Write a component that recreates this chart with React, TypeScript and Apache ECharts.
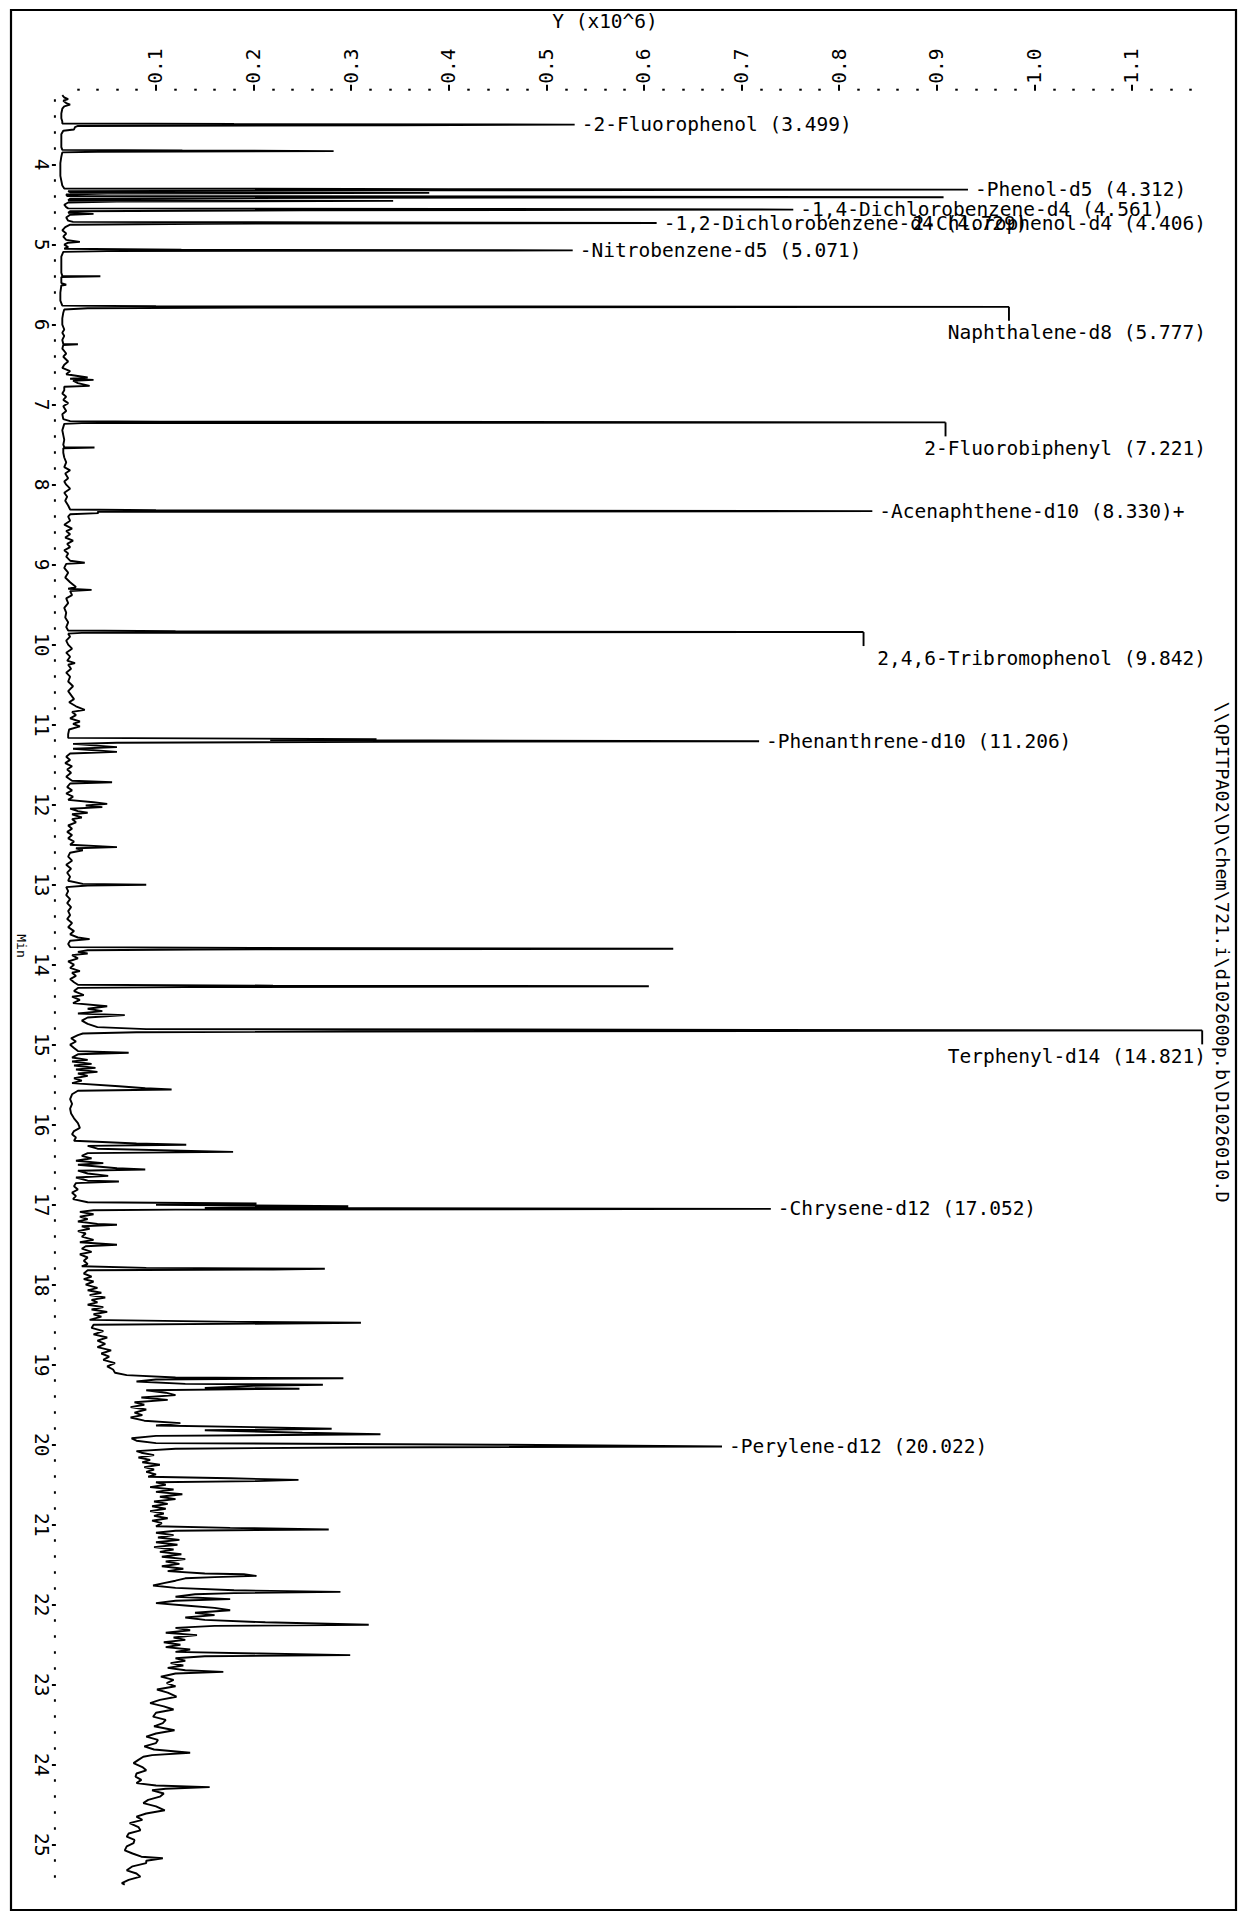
import { useEffect, useRef } from "react";
import * as echarts from "echarts";

// Labelled surrogate peaks: retention time (min) and apex abundance (x10^6)
const peakNames = [
  "2-Fluorophenol",
  "Phenol-d5",
  "2-Chlorophenol-d4",
  "1,4-Dichlorobenzene-d4",
  "1,2-Dichlorobenzene-d4",
  "Nitrobenzene-d5",
  "Naphthalene-d8",
  "2-Fluorobiphenyl",
  "Acenaphthene-d10",
  "2,4,6-Tribromophenol",
  "Phenanthrene-d10",
  "Terphenyl-d14",
  "Chrysene-d12",
  "Perylene-d12",
];
const peakTimes = [3.499, 4.312, 4.406, 4.561, 4.729, 5.071, 5.777, 7.221, 8.33, 9.842, 11.206, 14.821, 17.052, 20.022];
const peakHeights = [0.529, 0.932, 0.907, 0.753, 0.613, 0.527, 0.974, 0.909, 0.834, 0.825, 0.718, 1.172, 0.73, 0.68];
const peakFlags = ["", "", "", "", "", "", "", "", "+", "", "", "", "", ""];

// Axis tick labels
const abundanceTicks = [0.1, 0.2, 0.3, 0.4, 0.5, 0.6, 0.7, 0.8, 0.9, 1.0, 1.1];
const timeTicks = [4, 5, 6, 7, 8, 9, 10, 11, 12, 13, 14, 15, 16, 17, 18, 19, 20, 21, 22, 23, 24, 25];

// Total ion trace between the labelled apexes: [time (min), abundance (x10^6)]
const traceVolatiles = [
  [3.13, 0.004], [3.16, 0.006], [3.18, 0.01], [3.2, 0.005], [3.23, 0.008], [3.25, 0.012], [3.27, 0.006],
  [3.3, 0.004], [3.36, 0.003], [3.42, 0.003], [3.46, 0.004], [3.485, 0.004], [3.492, 0.18],
  [3.508, 0.35], [3.516, 0.02], [3.53, 0.017], [3.56, 0.016], [3.575, 0.005], [3.62, 0.003], [3.7, 0.003],
  [3.78, 0.003], [3.815, 0.004], [3.823, 0.127], [3.83, 0.282], [3.838, 0.04], [3.846, 0.004], [3.9, 0.003],
  [3.98, 0.002], [4.06, 0.002], [4.14, 0.002], [4.2, 0.003], [4.26, 0.004], [4.298, 0.006], [4.305, 0.4],
  [4.32, 0.35], [4.33, 0.01], [4.345, 0.012], [4.352, 0.38], [4.36, 0.05], [4.372, 0.008], [4.392, 0.009],
  [4.398, 0.45], [4.414, 0.3], [4.425, 0.012], [4.445, 0.01], [4.452, 0.343], [4.46, 0.06], [4.472, 0.01],
  [4.5, 0.006], [4.53, 0.008], [4.546, 0.01], [4.553, 0.4], [4.57, 0.25], [4.582, 0.012], [4.6, 0.01],
  [4.615, 0.036], [4.625, 0.012], [4.66, 0.008], [4.7, 0.01], [4.715, 0.015], [4.722, 0.3], [4.738, 0.15],
  [4.75, 0.012], [4.78, 0.007], [4.82, 0.004], [4.86, 0.008], [4.9, 0.005], [4.94, 0.008], [4.965, 0.022],
  [4.975, 0.01], [5.0, 0.006], [5.03, 0.01], [5.05, 0.006], [5.063, 0.126], [5.08, 0.05], [5.09, 0.005],
  [5.15, 0.003], [5.25, 0.003], [5.35, 0.003], [5.39, 0.004], [5.395, 0.043], [5.405, 0.003], [5.48, 0.003],
  [5.5, 0.008], [5.51, 0.003], [5.6, 0.002], [5.7, 0.002], [5.762, 0.004], [5.77, 0.1], [5.785, 0.2],
  [5.795, 0.03], [5.81, 0.006],
];

const traceSemiVolatiles = [
  [5.85, 0.005], [5.92, 0.004], [6.0, 0.004], [6.06, 0.006], [6.1, 0.004], [6.14, 0.006], [6.19, 0.004],
  [6.24, 0.005], [6.245, 0.02], [6.255, 0.005], [6.3, 0.004], [6.36, 0.008], [6.4, 0.005], [6.46, 0.01],
  [6.5, 0.006], [6.54, 0.004], [6.58, 0.012], [6.62, 0.008], [6.66, 0.03], [6.675, 0.012], [6.69, 0.036],
  [6.7, 0.015], [6.73, 0.02], [6.765, 0.032], [6.775, 0.006], [6.82, 0.006], [6.86, 0.004], [6.9, 0.008],
  [6.94, 0.005], [6.98, 0.01], [7.02, 0.005], [7.08, 0.008], [7.12, 0.004], [7.18, 0.005], [7.205, 0.012],
  [7.213, 0.104], [7.23, 0.024], [7.24, 0.006], [7.28, 0.005], [7.32, 0.004], [7.38, 0.005], [7.44, 0.006],
  [7.5, 0.005], [7.53, 0.006], [7.535, 0.037], [7.545, 0.005],
  [7.6, 0.005], [7.66, 0.006], [7.72, 0.008], [7.78, 0.006], [7.82, 0.012], [7.86, 0.007], [7.92, 0.01],
  [7.96, 0.006], [8.0, 0.008], [8.05, 0.012], [8.1, 0.006], [8.15, 0.009], [8.2, 0.007], [8.26, 0.01],
  [8.31, 0.012], [8.32, 0.1], [8.34, 0.04], [8.355, 0.041], [8.37, 0.012], [8.4, 0.01], [8.45, 0.012],
  [8.5, 0.006], [8.55, 0.014], [8.58, 0.008], [8.62, 0.012], [8.66, 0.007], [8.7, 0.015], [8.74, 0.009],
  [8.78, 0.012], [8.82, 0.006], [8.86, 0.01], [8.9, 0.008], [8.95, 0.012], [8.975, 0.027], [8.99, 0.008],
  [9.04, 0.006], [9.1, 0.01], [9.16, 0.007], [9.22, 0.012], [9.28, 0.018], [9.3, 0.01], [9.315, 0.034],
  [9.33, 0.012], [9.38, 0.014], [9.42, 0.008], [9.48, 0.01], [9.54, 0.006], [9.6, 0.008], [9.66, 0.007],
  [9.72, 0.01], [9.78, 0.008], [9.822, 0.01], [9.832, 0.12], [9.852, 0.024], [9.862, 0.01], [9.9, 0.012],
  [9.95, 0.008], [10.0, 0.01], [10.05, 0.014], [10.1, 0.008], [10.15, 0.012], [10.2, 0.009], [10.23, 0.017],
  [10.25, 0.01], [10.3, 0.013], [10.35, 0.008], [10.4, 0.012], [10.46, 0.01], [10.52, 0.015], [10.58, 0.01],
  [10.63, 0.013], [10.68, 0.016], [10.72, 0.011], [10.77, 0.018], [10.815, 0.027], [10.84, 0.014],
  [10.88, 0.018], [10.92, 0.012], [10.96, 0.022], [10.99, 0.015], [11.02, 0.022], [11.06, 0.011],
  [11.12, 0.01], [11.165, 0.01], [11.18, 0.326], [11.192, 0.217], [11.215, 0.33], [11.225, 0.06], [11.24, 0.015],
];

const tracePah = [
  [11.28, 0.06], [11.3, 0.015], [11.34, 0.06], [11.36, 0.012], [11.4, 0.008], [11.44, 0.012], [11.48, 0.007],
  [11.52, 0.014], [11.56, 0.009], [11.6, 0.013], [11.65, 0.008], [11.7, 0.014], [11.72, 0.055], [11.735, 0.012],
  [11.78, 0.009], [11.82, 0.014], [11.86, 0.008], [11.9, 0.015], [11.94, 0.01], [11.97, 0.036], [11.99, 0.05],
  [12.01, 0.028], [12.03, 0.045], [12.05, 0.012], [12.08, 0.02], [12.1, 0.03], [12.12, 0.014], [12.16, 0.024],
  [12.18, 0.014], [12.22, 0.018], [12.26, 0.01], [12.3, 0.014], [12.34, 0.009], [12.38, 0.014], [12.42, 0.01],
  [12.46, 0.016], [12.5, 0.012], [12.53, 0.06], [12.545, 0.018], [12.57, 0.025], [12.6, 0.012], [12.65, 0.01],
  [12.7, 0.014], [12.75, 0.008], [12.8, 0.013], [12.85, 0.009], [12.9, 0.012], [12.95, 0.01], [12.99, 0.025],
  [13.0, 0.09], [13.01, 0.03], [13.03, 0.008], [13.08, 0.01], [13.13, 0.008], [13.18, 0.012], [13.23, 0.009],
  [13.28, 0.013], [13.33, 0.01], [13.38, 0.012], [13.43, 0.009], [13.48, 0.014], [13.53, 0.01], [13.58, 0.016],
  [13.62, 0.012], [13.66, 0.02], [13.68, 0.032], [13.7, 0.012], [13.74, 0.01], [13.78, 0.012], [13.79, 0.2],
  [13.8, 0.63], [13.81, 0.14], [13.82, 0.03], [13.84, 0.02], [13.86, 0.03], [13.88, 0.014], [13.92, 0.02],
  [13.96, 0.01], [14.0, 0.016], [14.04, 0.012], [14.08, 0.022], [14.1, 0.014], [14.14, 0.018], [14.18, 0.012],
  [14.22, 0.016], [14.25, 0.02], [14.262, 0.22], [14.27, 0.605], [14.28, 0.13], [14.29, 0.02], [14.33, 0.016],
  [14.38, 0.026], [14.4, 0.014], [14.44, 0.022], [14.48, 0.015], [14.52, 0.05], [14.55, 0.03], [14.58, 0.045],
  [14.61, 0.02], [14.63, 0.068], [14.66, 0.03], [14.7, 0.024], [14.74, 0.03], [14.78, 0.04], [14.805, 0.09],
  [14.835, 0.3], [14.845, 0.08], [14.86, 0.025],
  [14.88, 0.02], [14.92, 0.013], [14.96, 0.018], [15.0, 0.012], [15.04, 0.016], [15.08, 0.02], [15.1, 0.072],
  [15.12, 0.02], [15.16, 0.014], [15.19, 0.03], [15.21, 0.014], [15.24, 0.034], [15.26, 0.016], [15.29, 0.038],
  [15.31, 0.018], [15.34, 0.04], [15.36, 0.02], [15.39, 0.03], [15.42, 0.016], [15.45, 0.024], [15.48, 0.014],
  [15.52, 0.062], [15.545, 0.089], [15.56, 0.116], [15.575, 0.02], [15.62, 0.014], [15.68, 0.012],
  [15.74, 0.014], [15.8, 0.012], [15.86, 0.013], [15.92, 0.016], [15.98, 0.02], [16.04, 0.022], [16.08, 0.016],
  [16.12, 0.014], [16.16, 0.018], [16.2, 0.016], [16.235, 0.08], [16.25, 0.131], [16.265, 0.03], [16.3, 0.04],
  [16.34, 0.179], [16.355, 0.03], [16.39, 0.024], [16.42, 0.034], [16.45, 0.018], [16.48, 0.046], [16.5, 0.02],
  [16.545, 0.06], [16.56, 0.089], [16.575, 0.02], [16.61, 0.03], [16.64, 0.051], [16.66, 0.018], [16.7, 0.03],
  [16.71, 0.062], [16.73, 0.018], [16.77, 0.016], [16.81, 0.02], [16.85, 0.014], [16.89, 0.018], [16.93, 0.015],
  [16.97, 0.03], [16.985, 0.203], [17.0, 0.1], [17.02, 0.297], [17.04, 0.15], [17.062, 0.12], [17.07, 0.036],
  [17.09, 0.022],
];

const traceLateEluters = [
  [17.12, 0.036], [17.15, 0.022], [17.18, 0.03], [17.21, 0.02], [17.24, 0.04], [17.25, 0.06], [17.27, 0.024],
  [17.3, 0.032], [17.33, 0.02], [17.36, 0.028], [17.4, 0.024], [17.44, 0.036], [17.47, 0.022], [17.5, 0.06],
  [17.52, 0.028], [17.55, 0.024], [17.59, 0.034], [17.62, 0.022], [17.66, 0.03], [17.7, 0.026], [17.74, 0.03],
  [17.77, 0.024], [17.79, 0.09], [17.8, 0.273], [17.81, 0.22], [17.82, 0.03], [17.86, 0.026], [17.9, 0.034],
  [17.93, 0.026], [17.96, 0.036], [18.0, 0.028], [18.04, 0.04], [18.07, 0.03], [18.1, 0.044], [18.13, 0.032],
  [18.16, 0.048], [18.19, 0.034], [18.22, 0.04], [18.25, 0.03], [18.28, 0.046], [18.31, 0.034], [18.34, 0.05],
  [18.37, 0.036], [18.4, 0.044], [18.44, 0.032], [18.465, 0.184], [18.475, 0.31], [18.485, 0.23], [18.5, 0.036],
  [18.54, 0.034], [18.58, 0.046], [18.62, 0.036], [18.66, 0.05], [18.7, 0.04], [18.74, 0.048], [18.78, 0.04],
  [18.82, 0.054], [18.86, 0.044], [18.9, 0.052], [18.94, 0.046], [18.98, 0.058], [19.02, 0.05], [19.06, 0.056],
  [19.1, 0.058], [19.13, 0.07], [19.16, 0.12], [19.17, 0.292], [19.185, 0.1], [19.21, 0.08], [19.24, 0.13],
  [19.25, 0.271], [19.265, 0.2], [19.29, 0.15], [19.3, 0.247], [19.32, 0.09], [19.35, 0.11], [19.38, 0.12],
  [19.41, 0.085], [19.44, 0.112], [19.47, 0.078], [19.5, 0.088], [19.53, 0.074], [19.56, 0.09], [19.6, 0.078],
  [19.63, 0.086], [19.66, 0.074], [19.7, 0.088], [19.73, 0.125], [19.76, 0.1], [19.78, 0.2], [19.8, 0.28],
  [19.82, 0.15], [19.85, 0.25], [19.87, 0.33], [19.89, 0.1], [19.92, 0.075], [19.95, 0.08], [19.98, 0.1],
  [20.0, 0.45], [20.035, 0.3], [20.05, 0.12], [20.08, 0.08],
  [20.1, 0.085], [20.13, 0.098], [20.16, 0.082], [20.19, 0.094], [20.22, 0.086], [20.25, 0.104], [20.28, 0.088],
  [20.31, 0.098], [20.34, 0.09], [20.37, 0.1], [20.4, 0.092], [20.42, 0.176], [20.44, 0.246], [20.455, 0.203],
  [20.47, 0.1], [20.5, 0.11], [20.53, 0.094], [20.56, 0.118], [20.59, 0.1], [20.62, 0.127], [20.65, 0.104],
  [20.68, 0.12], [20.71, 0.098], [20.74, 0.112], [20.77, 0.096], [20.8, 0.11], [20.83, 0.094], [20.86, 0.108],
  [20.89, 0.098], [20.92, 0.112], [20.95, 0.096], [20.98, 0.106], [21.02, 0.1], [21.04, 0.176], [21.06, 0.277],
  [21.075, 0.12], [21.1, 0.1], [21.13, 0.118], [21.16, 0.102], [21.19, 0.124], [21.22, 0.1], [21.25, 0.122],
  [21.28, 0.098], [21.31, 0.118], [21.34, 0.104], [21.37, 0.126], [21.4, 0.106], [21.43, 0.13], [21.46, 0.11],
  [21.49, 0.124], [21.52, 0.106], [21.55, 0.128], [21.58, 0.112], [21.61, 0.15], [21.62, 0.19], [21.64, 0.203],
  [21.655, 0.16], [21.67, 0.13], [21.7, 0.12], [21.73, 0.108], [21.76, 0.097], [21.79, 0.12], [21.82, 0.18],
  [21.84, 0.289], [21.855, 0.18], [21.87, 0.14], [21.9, 0.12], [21.93, 0.176], [21.95, 0.12], [21.98, 0.1],
  [22.01, 0.13], [22.04, 0.16], [22.07, 0.176], [22.1, 0.14], [22.13, 0.16], [22.16, 0.13], [22.19, 0.15],
  [22.22, 0.212], [22.25, 0.318], [22.265, 0.16], [22.29, 0.12], [22.32, 0.135], [22.35, 0.11], [22.38, 0.142],
  [22.41, 0.118], [22.44, 0.13], [22.47, 0.108], [22.5, 0.125], [22.53, 0.11], [22.56, 0.135], [22.59, 0.12],
  [22.61, 0.206], [22.63, 0.299], [22.645, 0.15], [22.67, 0.12], [22.7, 0.13], [22.73, 0.115], [22.76, 0.128],
  [22.79, 0.112], [22.82, 0.13], [22.84, 0.169], [22.86, 0.12],
];

const traceColumnBleed = [
  [22.9, 0.105], [22.94, 0.118], [22.98, 0.111], [23.02, 0.12], [23.06, 0.101], [23.1, 0.112], [23.15, 0.121],
  [23.19, 0.104], [23.23, 0.094], [23.27, 0.108], [23.31, 0.118], [23.35, 0.1], [23.4, 0.097], [23.44, 0.11],
  [23.48, 0.107], [23.52, 0.098], [23.57, 0.119], [23.61, 0.1], [23.65, 0.09], [23.69, 0.102], [23.73, 0.1],
  [23.77, 0.088], [23.81, 0.098], [23.85, 0.135], [23.88, 0.096], [23.9, 0.087], [23.94, 0.082], [23.98, 0.077],
  [24.03, 0.086], [24.07, 0.09], [24.11, 0.08], [24.15, 0.079], [24.19, 0.085], [24.23, 0.08], [24.26, 0.1],
  [24.28, 0.155], [24.3, 0.11], [24.32, 0.096], [24.36, 0.108], [24.4, 0.104], [24.44, 0.092], [24.48, 0.087],
  [24.52, 0.1], [24.57, 0.109], [24.61, 0.09], [24.65, 0.08], [24.69, 0.086], [24.73, 0.073], [24.78, 0.082],
  [24.82, 0.084], [24.86, 0.072], [24.9, 0.07], [24.94, 0.078], [24.98, 0.077], [25.02, 0.07], [25.07, 0.068],
  [25.11, 0.076], [25.15, 0.085], [25.17, 0.107], [25.2, 0.09], [25.23, 0.09], [25.27, 0.076], [25.32, 0.07],
  [25.36, 0.08], [25.4, 0.084], [25.44, 0.072], [25.48, 0.065], [25.5, 0.068],
];

const FILE_PATH = "\\\\QPITPA02\\D\\chem\\721.i\\d102600p.b\\D1026010.D";
const FONT = '"DejaVu Sans Mono", "Liberation Mono", monospace';

// Peaks whose label hangs below-right of the apex (with or without a drop tick)
const BELOW_WITH_TICK = new Set(["Naphthalene-d8", "2-Fluorobiphenyl", "2,4,6-Tribromophenol", "Terphenyl-d14"]);
const BELOW_PLAIN = new Set(["2-Chlorophenol-d4"]);

function buildTrace(): number[][] {
  const pts: number[][] = [
    ...traceVolatiles,
    ...traceSemiVolatiles,
    ...tracePah,
    ...traceLateEluters,
    ...traceColumnBleed,
    ...peakTimes.map((t, i) => [t, peakHeights[i]]),
  ];
  pts.sort((a, b) => a[0] - b[0]);
  // x = abundance, y = retention time
  return pts.map(([t, v]) => [v, t]);
}

export default function App() {
  const ref = useRef<HTMLDivElement>(null);

  useEffect(() => {
    if (!ref.current) return;
    const chart = echarts.init(ref.current, undefined, { renderer: "svg" });

    const labelData = peakTimes.map((t, i) => [peakHeights[i], t, i]);

    chart.setOption({
      animation: false,
      backgroundColor: "#ffffff",
      grid: { left: 58.4, top: 84.7, right: 31, bottom: 20.3, containLabel: false },
      xAxis: {
        type: "value",
        position: "top",
        min: 0,
        max: 1.18,
        interval: 0.1,
        offset: -6,
        axisLine: { show: false, onZero: false },
        axisTick: { show: true, length: 6, customValues: abundanceTicks, lineStyle: { color: "#000", width: 2 } },
        minorTick: { show: true, splitNumber: 5, length: 2, lineStyle: { color: "#000", width: 2.5 } },
        axisLabel: {
          customValues: abundanceTicks,
          rotate: -90,
          margin: 7,
          formatter: (v: number) => v.toFixed(1),
          fontFamily: FONT,
          fontSize: 19.5,
          color: "#000",
        },
        splitLine: { show: false },
        minorSplitLine: { show: false },
      },
      yAxis: {
        type: "value",
        inverse: true,
        min: 3,
        max: 25.6,
        interval: 1,
        offset: 2.5,
        axisLine: { show: false, onZero: false },
        axisTick: { show: true, length: 4, customValues: timeTicks, lineStyle: { color: "#000", width: 2 } },
        minorTick: { show: true, splitNumber: 5, length: 2, lineStyle: { color: "#000", width: 2.5 } },
        axisLabel: {
          customValues: timeTicks,
          rotate: -90,
          margin: 4,
          fontFamily: FONT,
          fontSize: 19.5,
          color: "#000",
        },
        splitLine: { show: false },
      },
      graphic: [
        {
          type: "rect",
          shape: { x: 11, y: 10, width: 1225, height: 1900 },
          style: { fill: "none", stroke: "#000", lineWidth: 2.2 },
          silent: true,
        },
        {
          type: "text",
          x: 605,
          y: 21,
          style: { text: "Y (x10^6)", font: `19.5px ${FONT}`, fill: "#000", align: "center", verticalAlign: "middle" },
        },
        {
          type: "text",
          x: 21,
          y: 946,
          rotation: -Math.PI / 2,
          style: { text: "Min", font: `13px ${FONT}`, fill: "#000", align: "center", verticalAlign: "middle" },
        },
        {
          type: "text",
          x: 1222,
          y: 952,
          rotation: -Math.PI / 2,
          style: { text: FILE_PATH, font: `18.5px ${FONT}`, fill: "#000", align: "center", verticalAlign: "middle" },
        },
      ],
      series: [
        {
          type: "line",
          data: buildTrace(),
          showSymbol: false,
          symbol: "none",
          clip: false,
          lineStyle: { color: "#000", width: 1.9 },
          z: 2,
        },
        {
          type: "custom",
          data: labelData,
          clip: false,
          z: 3,
          renderItem: (params: any, api: any) => {
            const idx = api.value(2) as number;
            const p = api.coord([api.value(0), api.value(1)]);
            const cs = params.coordSys;
            const rightEdge = cs.x + cs.width - 4;
            const name = peakNames[idx];
            const rt = peakTimes[idx].toFixed(3);
            const font = `19.5px ${FONT}`;
            if (BELOW_WITH_TICK.has(name) || BELOW_PLAIN.has(name)) {
              const children: any[] = [];
              if (BELOW_WITH_TICK.has(name)) {
                children.push({
                  type: "line",
                  shape: { x1: p[0], y1: p[1], x2: p[0], y2: p[1] + 14 },
                  style: { stroke: "#000", lineWidth: 1.9 },
                });
              }
              children.push({
                type: "text",
                x: rightEdge,
                y: p[1] + 26,
                style: { text: `${name} (${rt})${peakFlags[idx]}`, font, fill: "#000", align: "right", verticalAlign: "middle" },
              });
              return { type: "group", children };
            }
            return {
              type: "text",
              x: p[0] + 7,
              y: p[1],
              style: { text: `-${name} (${rt})${peakFlags[idx]}`, font, fill: "#000", align: "left", verticalAlign: "middle" },
            };
          },
        },
      ],
    });

    return () => chart.dispose();
  }, []);

  return (
    <div
      ref={ref}
      style={{ position: "absolute", left: 0, top: 0, width: 1241, height: 1913, background: "#fff" }}
    />
  );
}
